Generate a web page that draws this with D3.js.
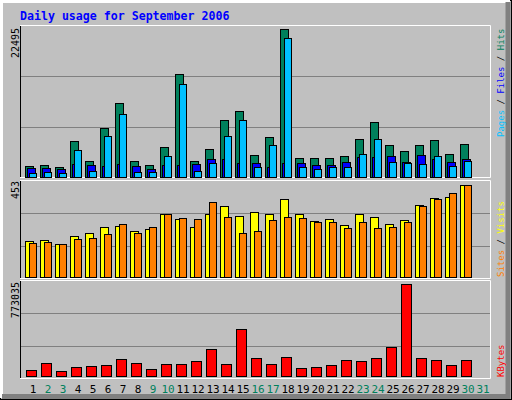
<!DOCTYPE html><html><head><meta charset="utf-8">
<script src="https://cdn.jsdelivr.net/npm/d3@7"></script>
<style>body{margin:0;background:#fff}</style></head><body><svg id="c" width="512" height="400"></svg>
<script>
const days = d3.range(1,32);
const weekend = [2,3,9,10,16,17,23,24,30,31];
const hits = [1672,1824,1520,5472,2432,7448,11248,2432,1824,4560,15656,2432,4256,8664,10032,3344,6080,22495,2888,2888,2888,3192,5776,8360,4864,3952,4864,5624,3496,5016];
const files = [1368,1368,1216,1976,1824,1672,1976,1672,1216,1824,1824,1976,2736,2736,2128,2128,1520,2128,2128,1824,1824,2280,3040,3040,3192,2280,3344,2736,2280,2736];
const pages = [608,760,608,4104,912,6232,9576,760,760,3192,14136,912,2128,6232,8664,1520,4864,21128,1520,1216,1520,1520,3496,5776,2280,2128,1976,3192,1672,2432];
const visits = [179,184,164,203,218,248,253,228,238,312,287,248,312,351,302,322,312,386,312,277,287,258,312,297,263,282,356,391,395,453];
const sites = [169,174,164,189,194,213,263,218,248,312,292,287,371,297,218,228,282,297,292,272,272,243,272,243,248,272,351,386,415,453];
const kbytes = [53600,112840,45140,79000,87460,95920,146700,112840,62070,104380,104380,129780,222870,104380,392150,155170,104380,163630,70530,79000,95920,138240,129780,155170,239800,773035,155170,138240,95920,138240];

const svg = d3.select('#c');
const mono = 'DejaVu Sans Mono, monospace';
svg.append('rect').attr('x',0).attr('y',0).attr('width',512).attr('height',400).attr('fill','#c0c0c0');
svg.append('rect').attr('x',0.5).attr('y',0.5).attr('width',511).attr('height',399).attr('fill','none').attr('stroke','#000');
svg.append('path').attr('d','M1.5,398V1.5H510').attr('stroke','#fff').attr('stroke-width',3).attr('fill','none');
svg.append('path').attr('d','M508,2V396.5H2').attr('stroke','#808080').attr('stroke-width',5).attr('fill','none');

svg.append('text').attr('x',20).attr('y',20).attr('font-family',mono).attr('font-weight','bold').attr('font-size',11.6).attr('fill','#0000ff').text('Daily usage for September 2006');

const x = d3.scaleLinear().domain([1,31]).range([25,475]);
const L=20,R=490;
function panel(top,bot){
  svg.append('path').attr('d',`M${L+0.5},${bot+0.5}V${top+0.5}`).attr('stroke','#000').attr('fill','none');
  svg.append('path').attr('d',`M${L},${top+0.5}H${R+0.5}V${bot+0.5}H${L}`).attr('stroke','#fff').attr('fill','none');
}
function grid(y,vals){vals.forEach(v=>svg.append('line').attr('x1',L+1).attr('x2',R).attr('y1',Math.round(y(v))+0.5).attr('y2',Math.round(y(v))+0.5).attr('stroke','#808080'));}
function bars(data,y,dx,w,color){
  svg.append('g').selectAll('rect').data(data).join('rect')
   .attr('x',(d,i)=>x(i+1)+dx+0.5).attr('y',d=>Math.round(y(d))+0.5)
   .attr('width',w).attr('height',d=>y(0)-Math.round(y(d)))
   .attr('fill',color).attr('stroke','#000');
}
// top panel
panel(25,177);
const yH = d3.scaleLinear().domain([0,22495]).range([177,29]);
grid(yH,[22495*0.338,22495*0.682]);
bars(hits,yH,0,8,'#00805c');
bars(files,yH,2,8,'#0000ff');
bars(pages,yH,4,7,'#00c0ff');
// middle
panel(180,278);
const yV = d3.scaleLinear().domain([0,453]).range([277,185]);
grid(yV,[453*0.335,453*0.695]);
bars(visits,yV,0,8,'#ffff00');
bars(sites,yV,4,7,'#ff8000');
// bottom
panel(280,378);
const yK = d3.scaleLinear().domain([0,773035]).range([376,284]);
grid(yK,[773035*0.33,773035*0.685]);
bars(kbytes,yK,1,10,'#ff0000');

// day labels
svg.append('g').selectAll('text').data(days).join('text')
  .attr('x',d=>x(d)+8).attr('y',393).attr('text-anchor','middle')
  .attr('font-family',mono).attr('font-size',11)
  .attr('fill',d=>weekend.includes(d)?'#00805c':'#000').text(d=>d);

// left max labels
function leftLab(t,y){svg.append('text').attr('transform',`translate(19,${y}) rotate(-90)`).attr('text-anchor','end').attr('font-family',mono).attr('font-size',10).attr('fill','#000').text(t);}
leftLab('22495',28);leftLab('453',181);leftLab('773035',282);

// right labels
function rightLab(parts,y){
  const t=svg.append('text').attr('transform',`translate(504,${y}) rotate(-90)`).attr('font-family',mono).attr('font-size',9);
  parts.forEach(p=>t.append('tspan').attr('fill',p[1]).text(p[0]));
}
rightLab([['Pages','#00c0ff'],[' / ','#000'],['Files','#0000ff'],[' / ','#000'],['Hits','#00805c']],137);
rightLab([['Sites','#ff8000'],[' / ','#000'],['Visits','#ffff00']],277);
rightLab([['KBytes','#ff0000']],377);
</script></body></html>
